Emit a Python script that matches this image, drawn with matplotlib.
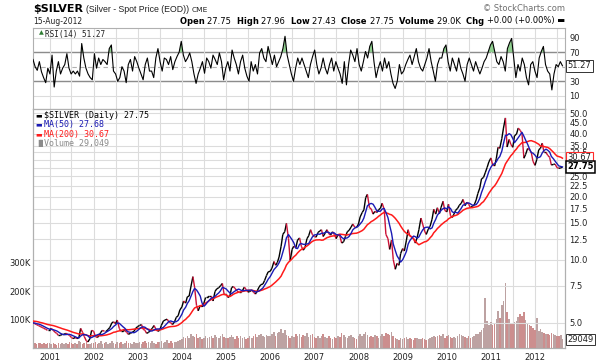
import numpy as np
import pandas as pd
import matplotlib
matplotlib.use("Agg")
import matplotlib.pyplot as plt
import matplotlib.dates as mdates
from matplotlib.collections import LineCollection

# semi-monthly closes (1st and 15th of each month)
# warm-up values Oct 1999 - Aug 2000 so the averages start at the left edge
price_warmup = [5.45, 5.45, 5.10, 5.20, 5.15, 5.30, 5.35, 5.20, 5.25, 5.30, 5.05,
                5.00, 5.05, 5.00, 5.00, 5.00, 5.00, 5.00, 5.05, 4.95, 4.95]
price_2000 = [5.00, 4.95, 4.90, 4.85, 4.80, 4.75, 4.70, 4.65, 4.60]
price_2001 = [4.60, 4.70, 4.60, 4.50, 4.45, 4.35, 4.35, 4.40, 4.40, 4.45, 4.40, 4.35,
              4.25, 4.20, 4.25, 4.20, 4.25, 4.70, 4.50, 4.30, 4.10, 4.05, 4.20, 4.60]
price_2002 = [4.55, 4.30, 4.25, 4.35, 4.50, 4.60, 4.55, 4.55, 4.65, 4.75, 5.00, 5.05,
              4.95, 5.15, 4.70, 4.55, 4.55, 4.60, 4.50, 4.40, 4.45, 4.50, 4.55, 4.70]
price_2003 = [4.80, 4.85, 4.90, 4.65, 4.60, 4.45, 4.50, 4.60, 4.70, 4.85, 4.65, 4.55,
              4.60, 4.85, 5.10, 5.15, 5.20, 5.05, 5.00, 4.90, 5.05, 5.30, 5.40, 5.75]
price_2004 = [5.95, 6.35, 6.20, 6.65, 6.70, 7.40, 8.30, 7.40, 6.05, 5.70, 6.05, 5.95,
              6.20, 6.60, 6.60, 6.70, 6.70, 6.35, 7.05, 7.25, 7.35, 7.50, 7.70, 6.85]
price_2005 = [6.85, 6.60, 6.70, 7.35, 7.45, 7.30, 7.10, 7.00, 7.00, 7.10, 7.40, 7.20,
              7.00, 7.05, 7.15, 7.00, 6.85, 7.10, 7.40, 7.60, 7.65, 7.95, 8.40, 8.75]
price_2006 = [8.80, 9.10, 9.80, 9.40, 9.70, 10.30, 11.60, 13.20, 13.60, 14.90, 12.60, 9.90,
              11.20, 11.60, 11.40, 12.40, 12.70, 11.60, 11.10, 11.40, 12.60, 13.00, 13.90, 13.20]
price_2007 = [12.90, 12.80, 13.50, 13.70, 13.90, 12.90, 13.40, 13.90, 13.30, 13.10, 13.60, 13.20,
              12.60, 13.20, 12.90, 12.00, 12.20, 12.90, 13.60, 13.80, 14.30, 14.80, 14.30, 14.20]
price_2008 = [14.80, 16.00, 16.80, 17.30, 19.80, 20.50, 17.70, 17.50, 16.50, 17.00, 16.80, 17.30,
              17.60, 18.60, 17.40, 13.20, 12.60, 11.20, 12.40, 10.00, 9.00, 9.60, 9.40, 10.70]
price_2009 = [11.30, 11.00, 12.40, 13.90, 13.00, 12.90, 12.60, 12.00, 12.80, 13.90, 15.80, 14.80,
              13.70, 13.20, 14.00, 14.40, 15.60, 17.40, 16.50, 17.70, 16.60, 17.80, 19.00, 17.20]
price_2010 = [16.90, 18.40, 16.20, 15.90, 16.50, 17.20, 17.60, 18.20, 18.60, 19.40, 18.10, 18.80,
              18.40, 17.70, 18.00, 18.20, 19.30, 20.70, 22.00, 24.30, 24.70, 26.00, 27.60, 29.30]
price_2011 = [30.60, 28.40, 28.00, 30.50, 34.40, 34.00, 37.80, 42.50, 47.50, 34.50, 37.50, 35.50,
              34.40, 39.00, 39.80, 42.50, 41.40, 40.00, 30.50, 31.80, 34.00, 33.50, 32.50, 29.50]
price_2012 = [28.20, 30.00, 33.50, 34.00, 36.00, 32.50, 32.50, 31.50, 30.80, 28.30, 28.50, 28.60,
              27.50, 27.30, 27.40, 27.75]

# volume in thousands, same semi-monthly dates from 15-Aug-2000
vol_2000 = [14, 16, 13, 17, 15, 12, 16, 14, 17]
vol_2001 = [15, 12, 17, 13, 11, 18, 14, 16, 12, 17, 13, 20, 15, 12, 17, 14, 22, 19, 13, 16, 20, 14, 12, 17]
vol_2002 = [15, 19, 13, 17, 22, 14, 16, 20, 13, 18, 25, 17, 14, 21, 16, 19, 13, 17, 22, 15, 18, 14, 20, 16]
vol_2003 = [17, 21, 14, 19, 25, 16, 20, 15, 23, 18, 14, 21, 19, 24, 17, 20, 26, 18, 22, 15, 21, 19, 24, 28]
vol_2004 = [30, 37, 33, 40, 35, 47, 43, 39, 50, 34, 37, 31, 35, 40, 33, 38, 42, 36, 45, 39, 34, 41, 48, 37]
vol_2005 = [35, 33, 39, 45, 37, 32, 40, 36, 43, 34, 38, 31, 36, 42, 35, 40, 47, 38, 44, 50, 41, 37, 46, 43]
vol_2006 = [40, 47, 55, 43, 51, 57, 65, 53, 61, 45, 40, 36, 43, 39, 47, 41, 50, 37, 45, 42, 53, 39, 44, 48]
vol_2007 = [37, 33, 40, 35, 43, 47, 39, 34, 41, 36, 32, 38, 35, 42, 37, 51, 44, 39, 35, 41, 46, 38, 34, 31]
vol_2008 = [40, 47, 43, 50, 55, 45, 39, 42, 37, 44, 40, 36, 41, 47, 43, 53, 49, 45, 57, 42, 35, 31, 28, 33]
vol_2009 = [29, 33, 37, 31, 35, 30, 27, 34, 36, 32, 29, 33, 31, 28, 32, 35, 39, 43, 37, 41, 45, 40, 47, 35]
vol_2010 = [40, 45, 37, 33, 39, 36, 42, 47, 44, 41, 38, 35, 40, 34, 37, 43, 47, 50, 55, 62, 70, 175, 95, 80]
vol_2011 = [90, 80, 85, 100, 130, 105, 150, 165, 230, 125, 100, 88, 82, 92, 95, 110, 120, 113, 125, 98, 85, 80, 75, 70]
vol_2012 = [62, 105, 58, 66, 56, 52, 50, 48, 46, 53, 48, 44, 40, 42, 44, 29.049]

# RSI(14), evenly spaced left to right
rsi_a = [60, 50, 45, 57, 43, 35, 28, 48, 40, 66, 22, 44, 57, 40, 48, 53, 68, 48, 40, 44, 40,
         44, 37, 82, 62, 48, 40, 35, 32, 68, 48, 62, 53, 60, 57, 53, 75, 80, 44, 40, 30, 35,
         50, 44, 28, 53, 60, 44, 64, 57, 48, 40, 32, 53, 62, 44, 44, 35, 62, 75, 57, 44, 62]
rsi_b = [60, 53, 64, 46, 57, 64, 70, 85, 66, 57, 62, 69, 57, 40, 27, 40, 48, 57, 41, 62, 57,
         48, 66, 60, 53, 69, 57, 32, 48, 57, 44, 73, 62, 53, 40, 57, 66, 48, 37, 30, 57, 44,
         53, 40, 69, 75, 62, 57, 78, 66, 53, 66, 50, 57, 64, 75, 92, 66, 53, 40, 30, 48, 62, 53]
rsi_c = [62, 53, 44, 35, 53, 64, 73, 53, 40, 48, 62, 48, 40, 53, 62, 44, 57, 48, 40, 27, 57,
         25, 53, 73, 66, 57, 75, 53, 44, 57, 71, 62, 78, 85, 57, 35, 48, 57, 44, 62, 48, 57,
         40, 27, 20, 30, 53, 40, 44, 53, 60, 66, 53, 64, 75, 57, 48, 44, 53, 62, 75, 57, 44,
         30, 53, 62]
rsi_d = [62, 75, 80, 57, 44, 62, 53, 44, 62, 48, 40, 30, 53, 62, 53, 44, 57, 48, 40, 48, 57,
         62, 71, 80, 85, 71, 57, 53, 64, 57, 44, 75, 83, 89, 62, 35, 53, 44, 62, 53, 35, 25,
         53, 57, 44, 35, 62, 71, 78, 53, 44, 40, 18, 40, 53, 50, 57, 51.27]

price_ticks = [5.0, 7.5, 10.0, 12.5, 15.0, 17.5, 20.0, 22.5, 25.0, 32.5, 35.0, 40.0, 45.0, 50.0]
vol_ticks = [100, 200, 300]
rsi_ticks = [10, 30, 70, 90]

last_close = 27.75
last_ma50 = 27.68
last_ma200 = 30.67
last_rsi = 51.27
last_volume = 29049

# ---- series ----
price_all = np.array(price_warmup + price_2000 + price_2001 + price_2002 + price_2003 +
                     price_2004 + price_2005 + price_2006 + price_2007 + price_2008 +
                     price_2009 + price_2010 + price_2011 + price_2012)
volume = np.array(vol_2000 + vol_2001 + vol_2002 + vol_2003 + vol_2004 + vol_2005 + vol_2006 +
                  vol_2007 + vol_2008 + vol_2009 + vol_2010 + vol_2011 + vol_2012)
rsi = np.array(rsi_a + rsi_b + rsi_c + rsi_d)

dates_all = pd.date_range("1999-10-01", "2012-08-15", freq="SMS")
s = pd.Series(price_all, index=dates_all)
ma50 = s.rolling(5).mean()
ma200 = s.rolling(19).mean()
n0 = len(price_warmup)
dates = dates_all[n0:]
price = price_all[n0:]
rsi_dates = pd.date_range("2000-08-17", "2012-08-15", periods=len(rsi))

x0 = pd.Timestamp("2000-08-17")
x1 = pd.Timestamp("2012-09-05")

# ---- figure ----
W, H = 600, 361
fig = plt.figure(figsize=(6, 3.61), dpi=100)
fig.patch.set_facecolor("white")


def box(l, t, r, b):
    return [l / W, 1 - b / H, (r - l) / W, (b - t) / H]


def fx(x):
    return x / W


def fy(y):
    return 1 - y / H


grid_c = "#dcdcdc"
spine_c = "#b0b0b0"
txt_c = "#222222"

ax_rsi = fig.add_axes(box(33, 28, 565, 109))
ax_vol = fig.add_axes(box(33, 109, 565, 347.7), sharex=ax_rsi)
ax_price = ax_vol.twinx()

for a in (ax_rsi, ax_vol, ax_price):
    for sp in a.spines.values():
        sp.set_color(spine_c)
        sp.set_linewidth(0.8)

# ---- RSI panel ----
ax_rsi.set_ylim(-8.3, 103.4)
ax_rsi.set_xlim(x0, x1)
ax_rsi.xaxis.set_major_locator(mdates.YearLocator())
ax_rsi.xaxis.set_minor_locator(mdates.MonthLocator((7,)))
ax_rsi.grid(True, which="both", axis="x", color=grid_c, lw=0.8)
for v in rsi_ticks:
    ax_rsi.axhline(v, color=grid_c, lw=0.8, zorder=0)
for v in (30, 70):
    ax_rsi.axhline(v, color="#8c8c8c", lw=1.0, zorder=1)
ax_rsi.axhline(50, color="#b0b0b0", lw=0.8, ls=(0, (4, 3)), zorder=1)
ax_rsi.fill_between(rsi_dates, rsi, 70, where=rsi > 70, interpolate=True,
                    color="#8fcf8f", lw=0, zorder=2)
ax_rsi.plot(rsi_dates, rsi, color="black", lw=0.8, zorder=3)
ax_rsi.yaxis.tick_right()
ax_rsi.set_yticks(rsi_ticks)
ax_rsi.set_yticklabels([str(v) for v in rsi_ticks])
ax_rsi.tick_params(axis="y", length=0, pad=3, labelsize=6, labelcolor=txt_c)
ax_rsi.tick_params(axis="x", which="both", length=0, labelbottom=False)
ax_rsi.text(1.005, last_rsi, "%.2f" % last_rsi, transform=ax_rsi.get_yaxis_transform(),
            fontsize=6, color=txt_c, va="center", ha="left",
            bbox=dict(boxstyle="square,pad=0.15", fc="white", ec="#333333", lw=0.7))
ax_rsi.text(0.012, 0.97, "\u25B2", transform=ax_rsi.transAxes, fontsize=4.5,
            color="#2e7d32", va="top", ha="left")
ax_rsi.text(0.022, 0.97, "RSI(14) %.2f" % last_rsi, transform=ax_rsi.transAxes,
            fontsize=5.5, family="DejaVu Sans Mono", color=txt_c, va="top", ha="left")

# ---- volume (base axes, left scale) ----
up = np.diff(price_all)[n0 - 1:] >= 0
vol_colors = np.where(up, "#bda2a2", "#cc8e8e")
ax_vol.bar(dates, volume, width=13, color=vol_colors, linewidth=0, zorder=1)
ax_vol.set_ylim(0, 843)
ax_vol.set_yticks(vol_ticks)
ax_vol.set_yticklabels(["%dK" % v for v in vol_ticks])
ax_vol.tick_params(axis="y", length=0, pad=2, labelsize=6, labelcolor=txt_c)
ax_vol.set_xlim(x0, x1)
ax_vol.grid(True, which="both", axis="x", color=grid_c, lw=0.8, zorder=0)
ax_vol.set_axisbelow(True)
ax_vol.xaxis.set_major_formatter(mdates.DateFormatter("%Y"))
ax_vol.tick_params(axis="x", which="both", length=0, pad=4, labelsize=6, labelcolor=txt_c)

# ---- price (twin axes, right log scale) ----
ax_price.set_yscale("log")
ax_price.set_ylim(3.80, 52.4)
ax_price.yaxis.set_major_locator(matplotlib.ticker.FixedLocator(price_ticks))
ax_price.yaxis.set_minor_locator(matplotlib.ticker.NullLocator())
ax_price.yaxis.set_major_formatter(matplotlib.ticker.FormatStrFormatter("%.1f"))
ax_price.tick_params(axis="y", length=0, pad=3, labelsize=6, labelcolor=txt_c)
for v in price_ticks + [30.0, 27.5]:
    ax_price.axhline(v, color=grid_c, lw=0.8, zorder=0)

xs = mdates.date2num(dates.to_pydatetime())
pts = np.column_stack([xs, price])
segs = np.stack([pts[:-1], pts[1:]], axis=1)
seg_c = np.where(np.diff(price) >= 0, "#000000", "#cc1136")
ax_price.add_collection(LineCollection(segs, colors=seg_c, linewidths=1.0, zorder=3))
ax_price.plot(dates, ma200.values[n0:], color="#ff1a1a", lw=1.1, zorder=4)
ax_price.plot(dates, ma50.values[n0:], color="#1a1ab4", lw=1.0, zorder=5)
ax_price.set_xlim(x0, x1)

ytr = ax_price.get_yaxis_transform()
ax_price.text(1.005, last_ma200, "%.2f" % last_ma200, transform=ytr, fontsize=6,
              color=txt_c, va="center", ha="left",
              bbox=dict(boxstyle="square,pad=0.15", fc="white", ec="#ff2a2a", lw=0.8))
ax_price.text(1.005, last_close, "%.2f" % last_close, transform=ytr, fontsize=6,
              color="black", fontweight="bold", va="center", ha="left",
              bbox=dict(boxstyle="square,pad=0.15", fc="white", ec="black", lw=1.1))
ax_vol.text(1.005, last_volume / 1000.0, "%d" % last_volume,
            transform=ax_vol.get_yaxis_transform(), fontsize=6, color=txt_c,
            va="center", ha="left",
            bbox=dict(boxstyle="square,pad=0.15", fc="white", ec="#333333", lw=0.7))

# legend block
legend_rows = [("\u25AC", "$SILVER (Daily) %.2f" % last_close, "black", "black"),
               ("\u25AC", "MA(50) %.2f" % last_ma50, "#1a1ab4", "#1a1ab4"),
               ("\u25AC", "MA(200) %.2f" % last_ma200, "#ff1a1a", "#ff1a1a"),
               ("\u2590\u258C", "Volume 29,049", "#8a8a8a", "#8a8a8a")]
for i, (icon, label, ic, tc) in enumerate(legend_rows):
    yy = fy(115 + i * 9.5)
    fig.text(fx(35), yy, icon, fontsize=5, color=ic, va="center", ha="left")
    fig.text(fx(44.5), yy, label, fontsize=6, family="DejaVu Sans Mono", color=tc,
             va="center", ha="left")

# ---- header ----
fig.canvas.draw()
r = fig.canvas.get_renderer()

head = [("$SILVER", dict(fontsize=8, fontweight="bold", color="black")),
        ("(Silver - Spot Price (EOD))", dict(fontsize=6.3, family="Liberation Sans", color=txt_c)),
        ("CME", dict(fontsize=5.4, color=txt_c))]
xpos = 33.0
for s_txt, kw in head:
    t = fig.text(fx(xpos), fy(12), s_txt, va="baseline", ha="left", **kw)
    xpos += t.get_window_extent(r).width + 3

fig.text(fx(565), fy(11), "\u00A9 StockCharts.com", fontsize=6, color="#6e6e6e",
         va="baseline", ha="right")
fig.text(fx(33), fy(23.5), "15-Aug-2012", fontsize=5.5, color=txt_c, va="baseline", ha="left")

info = [("Open ", True), ("27.75  ", False), ("High ", True), ("27.96  ", False),
        ("Low ", True), ("27.43  ", False), ("Close ", True), ("27.75  ", False),
        ("Volume ", True), ("29.0K  ", False), ("Chg ", True), ("+0.00 (+0.00%) \u25AC", False)]
xpos = 565.0
for s_txt, bold in reversed(info):
    t = fig.text(fx(xpos), fy(23.5), s_txt, fontsize=6, color="black",
                 fontweight="bold" if bold else "normal", va="baseline", ha="right")
    xpos -= t.get_window_extent(r).width

fig.savefig("out.png", dpi=100, facecolor="white")
